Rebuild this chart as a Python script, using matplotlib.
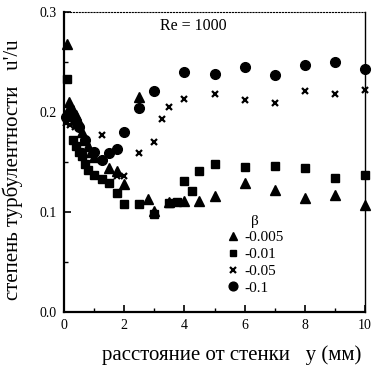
import matplotlib
matplotlib.use("Agg")
import matplotlib.pyplot as plt
from matplotlib.ticker import MultipleLocator, FormatStrFormatter

plt.rcParams['font.family'] = ['Liberation Serif', 'DejaVu Serif']

# beta = -0.005 (triangles)
tri_x = [0.1, 0.15, 0.2, 0.3, 0.4, 0.5, 0.6, 0.7, 0.8, 0.9, 1.0, 1.5, 1.75, 2.0, 2.5, 2.8, 3.0, 3.5, 4.0, 4.5, 5.0, 6.0, 7.0, 8.0, 9.0, 10.0]
tri_y = [0.268, 0.210, 0.206, 0.202, 0.197, 0.190, 0.180, 0.172, 0.166, 0.160, 0.155, 0.144, 0.141, 0.128, 0.215, 0.113, 0.101, 0.110, 0.111, 0.111, 0.116, 0.129, 0.122, 0.114, 0.117, 0.107]
# beta = -0.01 (squares)
sq_x = [0.1, 0.3, 0.4, 0.5, 0.6, 0.7, 0.8, 1.0, 1.25, 1.5, 1.75, 2.0, 2.5, 3.0, 3.5, 3.75, 4.0, 4.25, 4.5, 5.0, 6.0, 7.0, 8.0, 9.0, 10.0]
sq_y = [0.233, 0.172, 0.166, 0.160, 0.156, 0.148, 0.142, 0.137, 0.133, 0.129, 0.119, 0.108, 0.108, 0.098, 0.109, 0.110, 0.131, 0.121, 0.141, 0.148, 0.145, 0.146, 0.144, 0.134, 0.137]
# beta = -0.05 (crosses)
cr_x = [0.05, 0.2, 0.35, 0.5, 1.25, 1.75, 2.0, 2.5, 3.0, 3.25, 3.5, 4.0, 5.0, 6.0, 7.0, 8.0, 9.0, 10.0]
cr_y = [0.189, 0.187, 0.185, 0.184, 0.177, 0.136, 0.136, 0.159, 0.170, 0.193, 0.205, 0.213, 0.218, 0.212, 0.209, 0.221, 0.218, 0.222]
# beta = -0.1 (circles)
ci_x = [0.05, 0.15, 0.25, 0.35, 0.5, 0.7, 1.0, 1.25, 1.5, 1.75, 2.0, 2.5, 3.0, 4.0, 5.0, 6.0, 7.0, 8.0, 9.0, 10.0]
ci_y = [0.195, 0.198, 0.196, 0.192, 0.185, 0.172, 0.160, 0.152, 0.159, 0.163, 0.180, 0.204, 0.221, 0.240, 0.238, 0.245, 0.237, 0.247, 0.250, 0.243]

labels = ['-0.005', '-0.01', '-0.05', '-0.1']

fig = plt.figure(figsize=(3.78, 3.74), dpi=100)
ax = fig.add_axes([64/378, 1-312/374, 301/378, 300/374])

kw = dict(color='black', linestyle='none', clip_on=False)
ax.plot(tri_x, tri_y, marker='^', markersize=7, label=labels[0], **kw)
ax.plot(sq_x, sq_y, marker='s', markersize=5.5, label=labels[1], **kw)
ax.plot(cr_x, cr_y, marker='x', markersize=5, markeredgewidth=1.6, label=labels[2], **kw)
ax.plot(ci_x, ci_y, marker='o', markersize=7, label=labels[3], **kw)

ax.set_xlim(0, 10)
ax.set_ylim(0, 0.3)
ax.xaxis.set_major_locator(MultipleLocator(2))
ax.xaxis.set_minor_locator(MultipleLocator(1))
ax.yaxis.set_major_locator(MultipleLocator(0.1))
ax.yaxis.set_minor_locator(MultipleLocator(0.05))
ax.yaxis.set_major_formatter(FormatStrFormatter('%.1f'))
ax.tick_params(which='both', direction='in', top=False, right=False, labelsize=10, pad=5)
ax.tick_params(which='major', length=5, width=1.2)
ax.tick_params(which='minor', length=3, width=1.0)

ax.spines['left'].set_linewidth(1.6)
ax.spines['bottom'].set_linewidth(1.6)
ax.spines['right'].set_linewidth(1.0)
ax.spines['top'].set_linewidth(0.8)
ax.spines['top'].set_linestyle(':')

ax.text(160/378, 1-26/374, 'Re = 1000', transform=fig.transFigure, fontsize=11.5, va='center', ha='left')

fig.text(13/378, 1-170/374, "степень турбулентности   u'/u", rotation=90, fontsize=15, ha='center', va='center')
fig.text(232/378, 1-355/374, 'расстояние от стенки   y (мм)', fontsize=15, ha='center', va='center')

leg = ax.legend(title='β', loc='upper left', bbox_to_anchor=(218/378, 1-207/374), bbox_transform=fig.transFigure,
                frameon=False, fontsize=11, title_fontsize=11, handletextpad=0.2, labelspacing=0.2,
                handlelength=1.0, borderpad=0, markerscale=0.9)

fig.savefig('out.png', dpi=100)
